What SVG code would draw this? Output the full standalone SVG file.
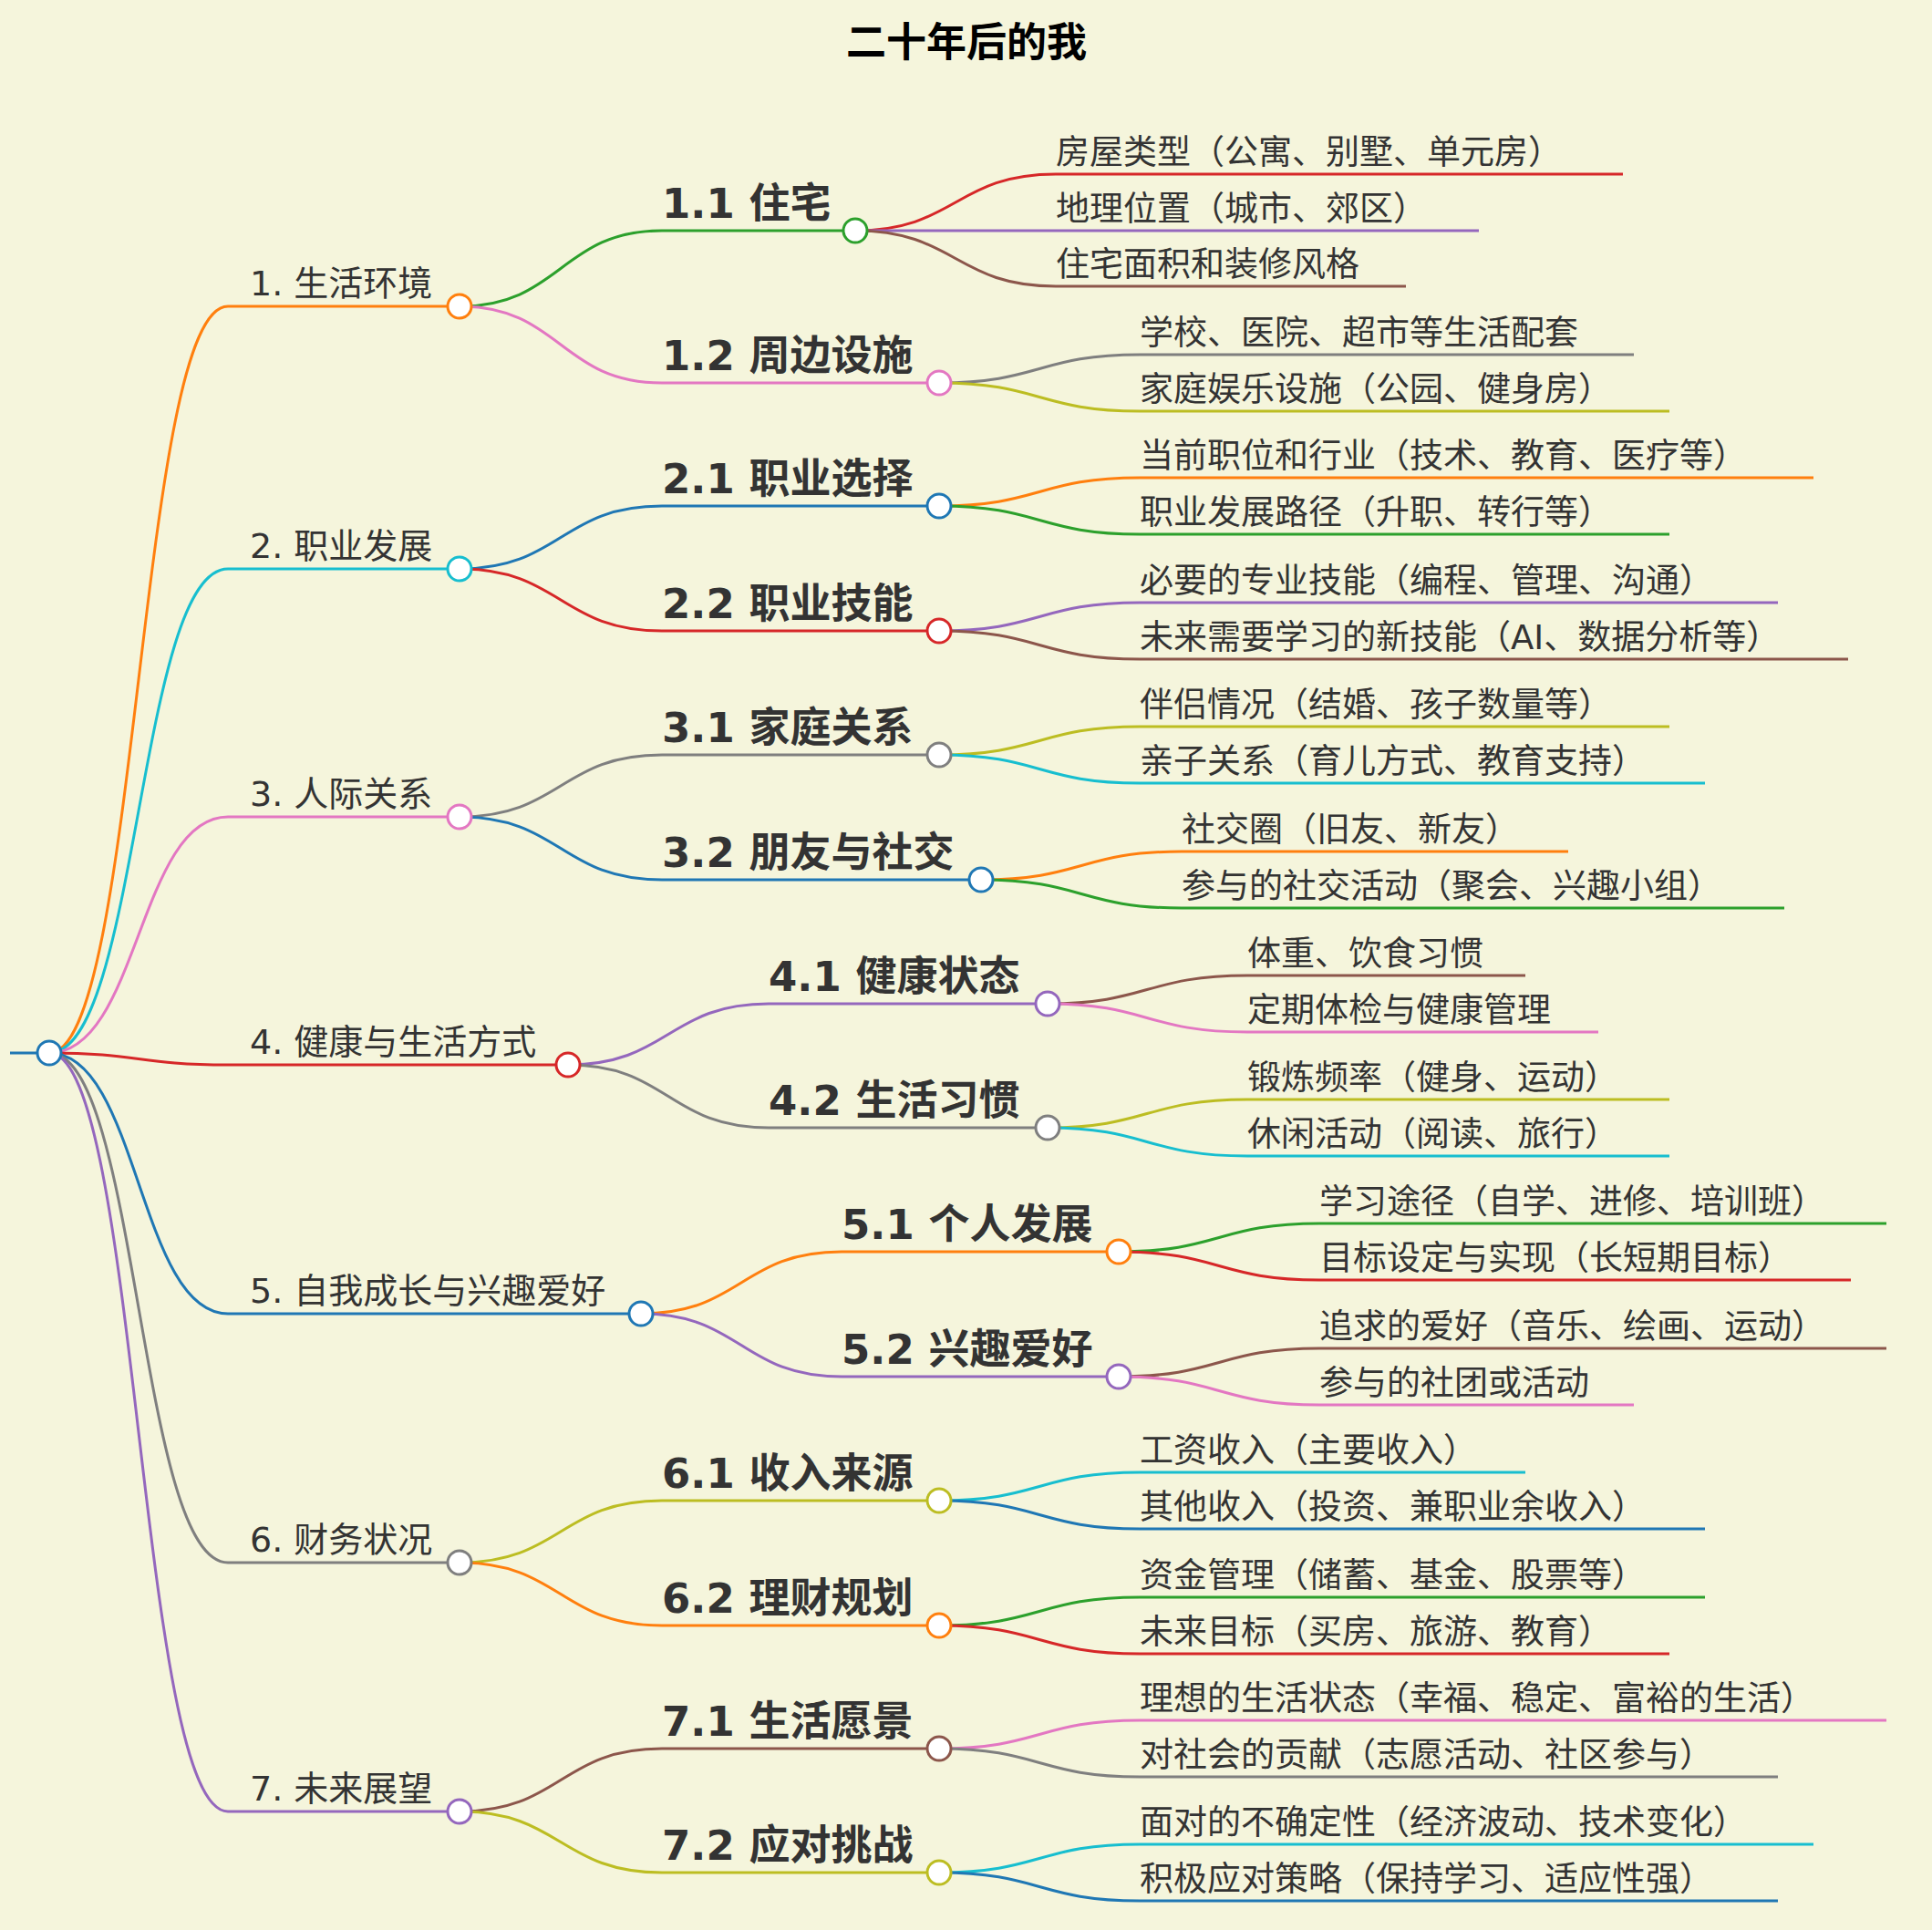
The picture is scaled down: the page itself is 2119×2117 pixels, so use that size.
<svg xmlns="http://www.w3.org/2000/svg" width="2119" height="2117" viewBox="0 0 2119 2117">
<style>
text{font-family:"DejaVu Sans","Noto Sans CJK SC",sans-serif;fill:#333}
.t{font-size:44px;font-weight:bold;fill:#000}
.l1{font-size:38px}
.l2{font-size:45px;font-weight:bold}
.lf{font-size:37px}
#links path{fill:none;stroke-width:3}
circle{fill:#fff;stroke-width:3}
</style>
<rect width="2119" height="2117" fill="#f5f5dc"/>
<text class="t" x="1060" y="62" text-anchor="middle">二十年后的我</text>
<g id="links">
<path d="M11,1155H54" stroke="#1f77b4"/>
<path d="M54,1155C152,1155 152,336 250,336H504" stroke="#ff7f0e"/>
<path d="M54,1155C152,1155 152,624 250,624H504" stroke="#17becf"/>
<path d="M54,1155C152,1155 152,896 250,896H504" stroke="#e377c2"/>
<path d="M54,1155C152,1155 152,1168 250,1168H623" stroke="#d62728"/>
<path d="M54,1155C152,1155 152,1441 250,1441H703" stroke="#1f77b4"/>
<path d="M54,1155C152,1155 152,1714 250,1714H504" stroke="#7f7f7f"/>
<path d="M54,1155C152,1155 152,1987 250,1987H504" stroke="#9467bd"/>
<path d="M504,336C615,336 615,253 726,253H938" stroke="#2ca02c"/>
<path d="M504,336C615,336 615,420 726,420H1030" stroke="#e377c2"/>
<path d="M504,624C615,624 615,555 726,555H1030" stroke="#1f77b4"/>
<path d="M504,624C615,624 615,692 726,692H1030" stroke="#d62728"/>
<path d="M504,896C615,896 615,828 726,828H1030" stroke="#7f7f7f"/>
<path d="M504,896C615,896 615,965 726,965H1076" stroke="#1f77b4"/>
<path d="M623,1168C733,1168 733,1101 843,1101H1149" stroke="#9467bd"/>
<path d="M623,1168C733,1168 733,1237 843,1237H1149" stroke="#7f7f7f"/>
<path d="M703,1441C813,1441 813,1373 923,1373H1227" stroke="#ff7f0e"/>
<path d="M703,1441C813,1441 813,1510 923,1510H1227" stroke="#9467bd"/>
<path d="M504,1714C615,1714 615,1646 726,1646H1030" stroke="#bcbd22"/>
<path d="M504,1714C615,1714 615,1783 726,1783H1030" stroke="#ff7f0e"/>
<path d="M504,1987C615,1987 615,1918 726,1918H1030" stroke="#8c564b"/>
<path d="M504,1987C615,1987 615,2054 726,2054H1030" stroke="#bcbd22"/>
<path d="M938,253C1048,253 1048,191 1158,191H1780" stroke="#d62728"/>
<path d="M938,253H1622" stroke="#9467bd"/>
<path d="M938,253C1048,253 1048,314 1158,314H1542" stroke="#8c564b"/>
<path d="M1030,420C1140,420 1140,389 1250,389H1792" stroke="#7f7f7f"/>
<path d="M1030,420C1140,420 1140,451 1250,451H1831" stroke="#bcbd22"/>
<path d="M1030,555C1140,555 1140,524 1250,524H1989" stroke="#ff7f0e"/>
<path d="M1030,555C1140,555 1140,586 1250,586H1831" stroke="#2ca02c"/>
<path d="M1030,692C1140,692 1140,661 1250,661H1950" stroke="#9467bd"/>
<path d="M1030,692C1140,692 1140,723 1250,723H2027" stroke="#8c564b"/>
<path d="M1030,828C1140,828 1140,797 1250,797H1831" stroke="#bcbd22"/>
<path d="M1030,828C1140,828 1140,859 1250,859H1870" stroke="#17becf"/>
<path d="M1076,965C1186,965 1186,934 1296,934H1720" stroke="#ff7f0e"/>
<path d="M1076,965C1186,965 1186,996 1296,996H1957" stroke="#2ca02c"/>
<path d="M1149,1101C1258,1101 1258,1070 1368,1070H1673" stroke="#8c564b"/>
<path d="M1149,1101C1258,1101 1258,1132 1368,1132H1753" stroke="#e377c2"/>
<path d="M1149,1237C1258,1237 1258,1206 1368,1206H1831" stroke="#bcbd22"/>
<path d="M1149,1237C1258,1237 1258,1268 1368,1268H1831" stroke="#17becf"/>
<path d="M1227,1373C1337,1373 1337,1342 1447,1342H2069" stroke="#2ca02c"/>
<path d="M1227,1373C1337,1373 1337,1404 1447,1404H2030" stroke="#d62728"/>
<path d="M1227,1510C1337,1510 1337,1479 1447,1479H2069" stroke="#8c564b"/>
<path d="M1227,1510C1337,1510 1337,1541 1447,1541H1792" stroke="#e377c2"/>
<path d="M1030,1646C1140,1646 1140,1615 1250,1615H1673" stroke="#17becf"/>
<path d="M1030,1646C1140,1646 1140,1677 1250,1677H1870" stroke="#1f77b4"/>
<path d="M1030,1783C1140,1783 1140,1752 1250,1752H1870" stroke="#2ca02c"/>
<path d="M1030,1783C1140,1783 1140,1814 1250,1814H1831" stroke="#d62728"/>
<path d="M1030,1918C1140,1918 1140,1887 1250,1887H2069" stroke="#e377c2"/>
<path d="M1030,1918C1140,1918 1140,1949 1250,1949H1950" stroke="#7f7f7f"/>
<path d="M1030,2054C1140,2054 1140,2023 1250,2023H1989" stroke="#17becf"/>
<path d="M1030,2054C1140,2054 1140,2085 1250,2085H1950" stroke="#1f77b4"/>
</g>
<g id="root"><circle cx="54" cy="1155" r="13" stroke="#1f77b4"/></g>
<g id="n1"><text class="l1" x="274" y="324">1. 生活环境</text><circle cx="504" cy="336" r="13" stroke="#ff7f0e"/></g>
<g id="n2"><text class="l1" x="274" y="612">2. 职业发展</text><circle cx="504" cy="624" r="13" stroke="#17becf"/></g>
<g id="n3"><text class="l1" x="274" y="884">3. 人际关系</text><circle cx="504" cy="896" r="13" stroke="#e377c2"/></g>
<g id="n4"><text class="l1" x="274" y="1156">4. 健康与生活方式</text><circle cx="623" cy="1168" r="13" stroke="#d62728"/></g>
<g id="n5"><text class="l1" x="274" y="1429">5. 自我成长与兴趣爱好</text><circle cx="703" cy="1441" r="13" stroke="#1f77b4"/></g>
<g id="n6"><text class="l1" x="274" y="1702">6. 财务状况</text><circle cx="504" cy="1714" r="13" stroke="#7f7f7f"/></g>
<g id="n7"><text class="l1" x="274" y="1975">7. 未来展望</text><circle cx="504" cy="1987" r="13" stroke="#9467bd"/></g>
<g id="n11"><text class="l2" x="726" y="239">1.1 住宅</text><circle cx="938" cy="253" r="13" stroke="#2ca02c"/></g>
<g id="n12"><text class="l2" x="726" y="406">1.2 周边设施</text><circle cx="1030" cy="420" r="13" stroke="#e377c2"/></g>
<g id="n21"><text class="l2" x="726" y="541">2.1 职业选择</text><circle cx="1030" cy="555" r="13" stroke="#1f77b4"/></g>
<g id="n22"><text class="l2" x="726" y="678">2.2 职业技能</text><circle cx="1030" cy="692" r="13" stroke="#d62728"/></g>
<g id="n31"><text class="l2" x="726" y="814">3.1 家庭关系</text><circle cx="1030" cy="828" r="13" stroke="#7f7f7f"/></g>
<g id="n32"><text class="l2" x="726" y="951">3.2 朋友与社交</text><circle cx="1076" cy="965" r="13" stroke="#1f77b4"/></g>
<g id="n41"><text class="l2" x="843" y="1087">4.1 健康状态</text><circle cx="1149" cy="1101" r="13" stroke="#9467bd"/></g>
<g id="n42"><text class="l2" x="843" y="1223">4.2 生活习惯</text><circle cx="1149" cy="1237" r="13" stroke="#7f7f7f"/></g>
<g id="n51"><text class="l2" x="923" y="1359">5.1 个人发展</text><circle cx="1227" cy="1373" r="13" stroke="#ff7f0e"/></g>
<g id="n52"><text class="l2" x="923" y="1496">5.2 兴趣爱好</text><circle cx="1227" cy="1510" r="13" stroke="#9467bd"/></g>
<g id="n61"><text class="l2" x="726" y="1632">6.1 收入来源</text><circle cx="1030" cy="1646" r="13" stroke="#bcbd22"/></g>
<g id="n62"><text class="l2" x="726" y="1769">6.2 理财规划</text><circle cx="1030" cy="1783" r="13" stroke="#ff7f0e"/></g>
<g id="n71"><text class="l2" x="726" y="1904">7.1 生活愿景</text><circle cx="1030" cy="1918" r="13" stroke="#8c564b"/></g>
<g id="n72"><text class="l2" x="726" y="2040">7.2 应对挑战</text><circle cx="1030" cy="2054" r="13" stroke="#bcbd22"/></g>
<g id="leaves">
<text class="lf" x="1158" y="180">房屋类型（公寓、别墅、单元房）</text>
<text class="lf" x="1158" y="242">地理位置（城市、郊区）</text>
<text class="lf" x="1158" y="303">住宅面积和装修风格</text>
<text class="lf" x="1250" y="378">学校、医院、超市等生活配套</text>
<text class="lf" x="1250" y="440">家庭娱乐设施（公园、健身房）</text>
<text class="lf" x="1250" y="513">当前职位和行业（技术、教育、医疗等）</text>
<text class="lf" x="1250" y="575">职业发展路径（升职、转行等）</text>
<text class="lf" x="1250" y="650">必要的专业技能（编程、管理、沟通）</text>
<text class="lf" x="1250" y="712">未来需要学习的新技能（AI、数据分析等）</text>
<text class="lf" x="1250" y="786">伴侣情况（结婚、孩子数量等）</text>
<text class="lf" x="1250" y="848">亲子关系（育儿方式、教育支持）</text>
<text class="lf" x="1296" y="923">社交圈（旧友、新友）</text>
<text class="lf" x="1296" y="985">参与的社交活动（聚会、兴趣小组）</text>
<text class="lf" x="1368" y="1059">体重、饮食习惯</text>
<text class="lf" x="1368" y="1121">定期体检与健康管理</text>
<text class="lf" x="1368" y="1195">锻炼频率（健身、运动）</text>
<text class="lf" x="1368" y="1257">休闲活动（阅读、旅行）</text>
<text class="lf" x="1447" y="1331">学习途径（自学、进修、培训班）</text>
<text class="lf" x="1447" y="1393">目标设定与实现（长短期目标）</text>
<text class="lf" x="1447" y="1468">追求的爱好（音乐、绘画、运动）</text>
<text class="lf" x="1447" y="1530">参与的社团或活动</text>
<text class="lf" x="1250" y="1604">工资收入（主要收入）</text>
<text class="lf" x="1250" y="1666">其他收入（投资、兼职业余收入）</text>
<text class="lf" x="1250" y="1741">资金管理（储蓄、基金、股票等）</text>
<text class="lf" x="1250" y="1803">未来目标（买房、旅游、教育）</text>
<text class="lf" x="1250" y="1876">理想的生活状态（幸福、稳定、富裕的生活）</text>
<text class="lf" x="1250" y="1938">对社会的贡献（志愿活动、社区参与）</text>
<text class="lf" x="1250" y="2012">面对的不确定性（经济波动、技术变化）</text>
<text class="lf" x="1250" y="2074">积极应对策略（保持学习、适应性强）</text>
</g>
</svg>
